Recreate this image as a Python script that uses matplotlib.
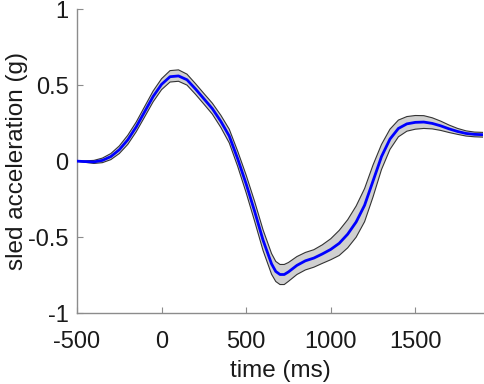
import matplotlib
matplotlib.use("Agg")
import matplotlib.pyplot as plt
import numpy as np

# time (ms)
time_ms = [-500, -450, -400, -350, -300, -250, -200, -150, -100, -50,
           0, 50, 100, 150, 200, 250, 300, 350, 400, 450,
           500, 550, 600, 650, 675, 700, 725, 750, 800, 850,
           900, 950, 1000, 1050, 1100, 1150, 1200, 1250, 1300, 1350,
           1400, 1450, 1500, 1550, 1600, 1650, 1700, 1750, 1800, 1850, 1900]
# mean sled acceleration (g)
mean_acc = [0.000, -0.003, -0.005, 0.005, 0.030, 0.075, 0.140, 0.225, 0.325, 0.425,
            0.505, 0.555, 0.560, 0.535, 0.475, 0.410, 0.345, 0.262, 0.165, 0.015,
            -0.150, -0.330, -0.520, -0.675, -0.725, -0.745, -0.745, -0.728, -0.685, -0.655,
            -0.637, -0.610, -0.580, -0.540, -0.480, -0.400, -0.290, -0.130, 0.030, 0.145,
            0.215, 0.245, 0.255, 0.257, 0.248, 0.232, 0.212, 0.195, 0.182, 0.176, 0.174]
# upper / lower spread around the mean (g)
upper_dev = [0.000, 0.005, 0.010, 0.015, 0.020, 0.025, 0.030, 0.032, 0.034, 0.036,
             0.037, 0.040, 0.040, 0.037, 0.035, 0.035, 0.036, 0.040, 0.045, 0.050,
             0.058, 0.065, 0.068, 0.068, 0.066, 0.066, 0.066, 0.062, 0.058, 0.055,
             0.055, 0.060, 0.070, 0.085, 0.095, 0.105, 0.110, 0.105, 0.080, 0.065,
             0.055, 0.048, 0.045, 0.042, 0.037, 0.031, 0.025, 0.020, 0.017, 0.015, 0.015]
lower_dev = [0.000, 0.005, 0.010, 0.015, 0.020, 0.025, 0.030, 0.032, 0.034, 0.035,
             0.035, 0.035, 0.035, 0.035, 0.035, 0.035, 0.036, 0.040, 0.045, 0.050,
             0.058, 0.065, 0.068, 0.068, 0.066, 0.066, 0.066, 0.062, 0.060, 0.060,
             0.060, 0.062, 0.068, 0.080, 0.090, 0.100, 0.108, 0.105, 0.085, 0.068,
             0.055, 0.048, 0.045, 0.042, 0.036, 0.030, 0.024, 0.019, 0.017, 0.016, 0.016]

x_ticks = [-500, 0, 500, 1000, 1500]
y_ticks = [-1, -0.5, 0, 0.5, 1]
y_tick_labels = ["-1", "-0.5", "0", "0.5", "1"]

plt.rcParams['font.family'] = ['Liberation Sans', 'DejaVu Sans']

t = np.array(time_ms, dtype=float)
m = np.array(mean_acc)
up = m + np.array(upper_dev)
lo = m - np.array(lower_dev)

fig = plt.figure(figsize=(4.84, 3.84), dpi=100)
ax = fig.add_axes([77 / 484, 1 - 313.3 / 384, (483 - 77) / 484, (313.3 - 9) / 384])

ax.fill_between(t, lo, up, facecolor='#d0d0d0', edgecolor='none', zorder=1)
ax.plot(t, up, color='#333333', lw=0.8, zorder=2)
ax.plot(t, lo, color='#333333', lw=0.8, zorder=2)
ax.plot(t, m, color='#0000ff', lw=2.0, zorder=3)

ax.set_xlim(-500, 1900)
ax.set_ylim(-1, 1)
ax.set_xticks(x_ticks)
ax.set_xticklabels([str(v) for v in x_ticks])
ax.set_yticks(y_ticks)
ax.set_yticklabels(y_tick_labels)

for s in ['top', 'right']:
    ax.spines[s].set_visible(False)
for s in ['left', 'bottom']:
    ax.spines[s].set_color('#8c8c8c')
    ax.spines[s].set_linewidth(1.0)

ax.tick_params(direction='in', length=4, width=0.8, color='#8c8c8c',
               labelsize=17, labelcolor='#1a1a1a')
ax.tick_params(axis='x', pad=13)
ax.tick_params(axis='y', pad=6)
ax.set_xlabel('time (ms)', fontsize=17.5, color='#1a1a1a', labelpad=5)
ax.set_ylabel('sled acceleration (g)', fontsize=17.5, color='#1a1a1a', labelpad=0)

fig.savefig('out.png', dpi=100)
